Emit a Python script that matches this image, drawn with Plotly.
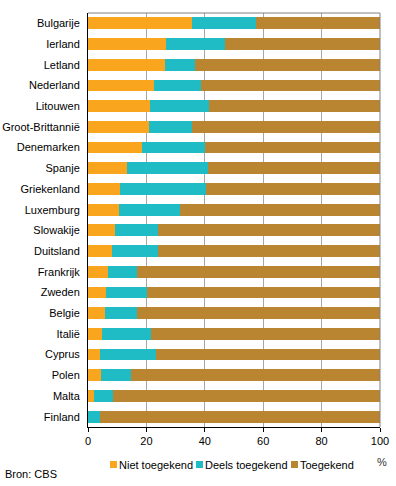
import plotly.graph_objects as go

landen = ["Bulgarije", "Ierland", "Letland", "Nederland", "Litouwen", "Groot-Brittannië",
          "Denemarken", "Spanje", "Griekenland", "Luxemburg", "Slowakije", "Duitsland",
          "Frankrijk", "Zweden", "Belgie", "Italië", "Cyprus", "Polen", "Malta", "Finland"]
niet_toegekend = [35.5, 26.6, 26.4, 22.5, 21.1, 20.8, 18.4, 13.3, 10.9, 10.5,
                  9.1, 8.1, 6.7, 6.1, 5.7, 4.7, 4.0, 4.3, 1.9, 0.0]
deels_toegekend = [22.0, 20.4, 10.3, 16.2, 20.4, 14.7, 21.7, 27.7, 29.4, 20.9,
                   14.8, 15.8, 10.1, 14.1, 11.1, 16.9, 19.2, 10.4, 6.7, 4.0]
toegekend = [round(100 - a - b, 1) for a, b in zip(niet_toegekend, deels_toegekend)]

series = [("Niet toegekend", niet_toegekend, "#F9A61E"),
          ("Deels toegekend", deels_toegekend, "#1FBCC6"),
          ("Toegekend", toegekend, "#BA8531")]

W, H = 396, 486
L, R, T, B = 88, 380, 13, 427
pw, ph = R - L, B - T


def px(x):
    return (x - L) / pw


def py(y):
    return (B - y) / ph


fig = go.Figure()
for name, vals, col in series:
    fig.add_trace(go.Bar(y=landen, x=vals, name=name, orientation="h",
                         marker=dict(color=col, line=dict(width=0))))

# legend drawn manually (swatch + label)
legend_pos = [(110, 119), (196, 205), (291, 300)]
shapes = [
    dict(type="line", xref="paper", yref="paper", x0=0, x1=1, y0=1, y1=1,
         line=dict(color="#808080", width=1)),
    dict(type="line", xref="paper", yref="paper", x0=1, x1=1, y0=0, y1=1,
         line=dict(color="#808080", width=1)),
]
annotations = []
for (sx, tx), (name, _, col) in zip(legend_pos, series):
    shapes.append(dict(type="rect", xref="paper", yref="paper",
                       x0=px(sx), x1=px(sx + 7), y0=py(468), y1=py(461),
                       fillcolor=col, line=dict(width=0)))
    annotations.append(dict(text=name, xref="paper", yref="paper", x=px(tx - 2), y=py(464.5),
                            xanchor="left", yanchor="middle", showarrow=False,
                            font=dict(size=11, color="black")))

annotations.append(dict(text="%", xref="paper", yref="paper", x=px(382), y=py(462),
                        xanchor="center", yanchor="middle", showarrow=False,
                        font=dict(size=11, color="#333333")))
annotations.append(dict(text="Bron: CBS", xref="paper", yref="paper", x=px(3), y=py(473.5),
                        xanchor="left", yanchor="middle", showarrow=False,
                        font=dict(size=11, color="black")))

fig.update_layout(
    barmode="stack", bargap=0.43,
    width=W, height=H,
    margin=dict(l=L, r=W - R, t=T, b=H - B, autoexpand=False),
    plot_bgcolor="white", paper_bgcolor="white",
    font=dict(family="Liberation Sans, Arial, sans-serif", size=11, color="black"),
    showlegend=False,
    xaxis=dict(range=[0, 100], tickvals=[0, 20, 40, 60, 80, 100],
               showgrid=True, gridcolor="#A6A6A6", gridwidth=1,
               showline=True, linecolor="black", linewidth=1,
               ticks="outside", ticklen=4, tickcolor="black", zeroline=False,
               automargin=False),
    yaxis=dict(autorange="reversed", showline=True, linecolor="black", linewidth=1,
               ticks="", ticklabelstandoff=5, showgrid=False, automargin=False),
    shapes=shapes,
    annotations=annotations,
)

fig.write_html("out.html", config={"displayModeBar": False},
               post_script="document.body.style.margin='0';document.body.style.padding='0';")
